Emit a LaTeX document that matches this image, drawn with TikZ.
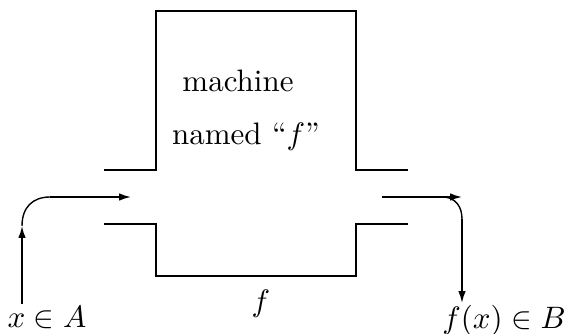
\documentclass[tikz,border=0pt]{standalone}
\usepackage{amsmath,amssymb}
\usepackage{tikz}
\usetikzlibrary{arrows.meta,positioning,calc}

\begin{document}
\begin{tikzpicture}[
    x=0.3225pt, y=-0.3225pt,
    wall/.style={line width=0.6pt},
    lbl/.style={inner sep=0pt, anchor=base},
    arr/.style={-{Latex[length=3.8pt,width=2.4pt]}, line width=0.55pt},
    curl/.style={line width=0.45pt}
]
\useasboundingbox (0,0) rectangle (565,334);

% the machine
\draw[wall] (104,170) -- (156,170) -- (156,11) -- (356,11) -- (356,170) -- (408,170);
\draw[wall] (104,224) -- (156,224) -- (156,276) -- (356,276) -- (356,224) -- (408,224);

\node[lbl] (mach) at (238,92) {machine};
\node[lbl] (named) at (246,145) {named ``$f$''};
\node[lbl] (fname) at (261,312) {$f$};

% input and output
\node[lbl] (xa) at (47,328) {$x \in A$};
\node[lbl] (fb) at (504,329) {$f(x) \in B$};

\coordinate (src) at (22,304);
\coordinate (up) at (22,226);
\coordinate (inl) at (50,197);
\coordinate (inr) at (131,197);
\coordinate (outl) at (382,197);
\coordinate (outr) at (462,197);
\coordinate (turn) at (444,197);
\coordinate (down) at (462,219);
\coordinate (dst) at (462,303);

\draw[arr] (src) -- (up);
\draw[curl] (up) .. controls (22,207) and (33,197) .. (inl);
\draw[arr] (inl) -- (inr);

\draw[arr] (outl) -- (outr);
\draw[curl] (turn) .. controls (456,198) and (462,207) .. (down);
\draw[arr] (down) -- (dst);
\end{tikzpicture}
\end{document}
